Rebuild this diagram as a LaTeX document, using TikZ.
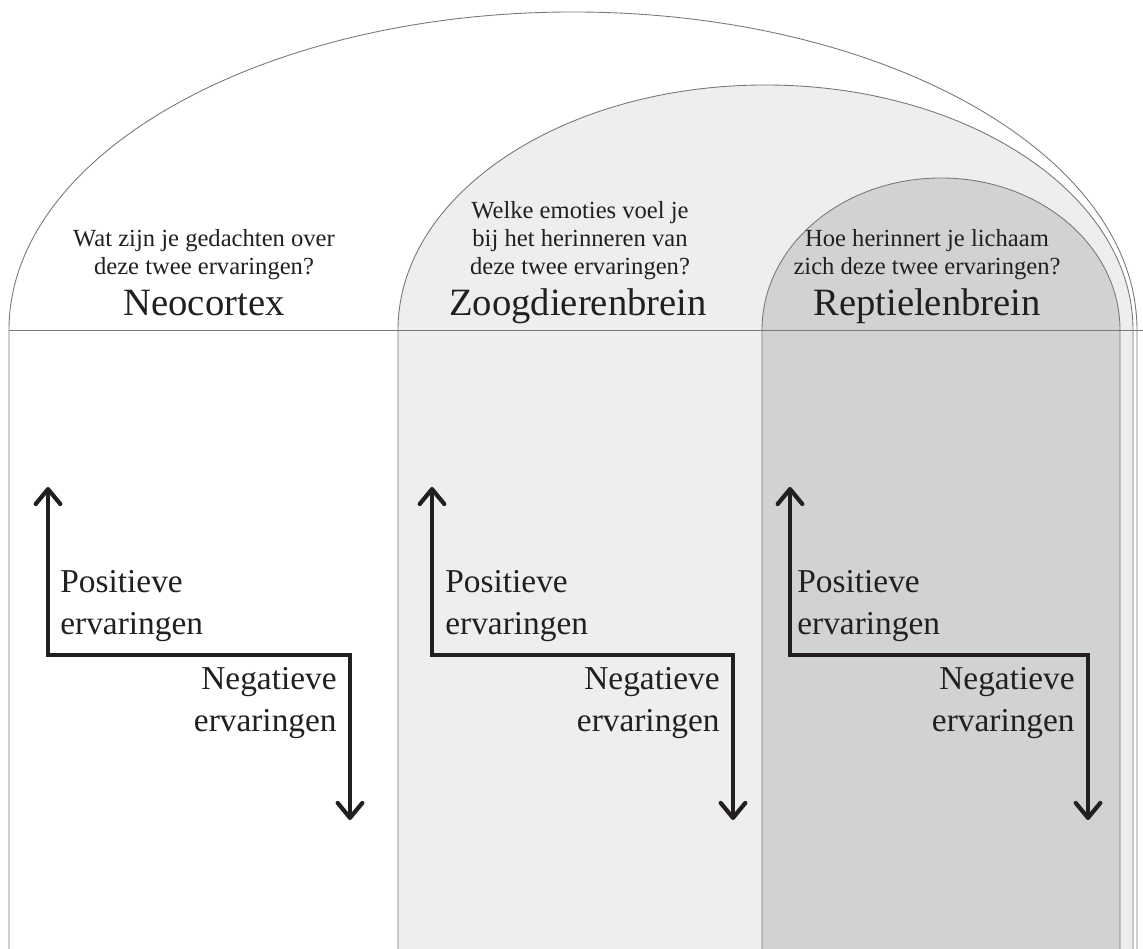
\documentclass[tikz,border=0pt]{standalone}
\usepackage{fontspec}
\setmainfont{Liberation Serif}
\usetikzlibrary{arrows.meta, positioning}
\definecolor{linegray}{RGB}{120,120,122}
\definecolor{mammalgray}{RGB}{238,238,238}
\definecolor{reptgray}{RGB}{209,210,212}
\definecolor{inkblack}{RGB}{35,31,32}

\tikzset{
  brainline/.style={draw=linegray, line width=0.5pt},
  question/.style={anchor=south, align=center, inner sep=0pt, text=inkblack, font=\fontsize{14}{15.9}\selectfont},
  braintitle/.style={anchor=base, inner sep=0pt, text=inkblack, font=\fontsize{22}{26}\selectfont},
  poslabel/.style={anchor=west, align=left, inner sep=0pt, text=inkblack, font=\fontsize{19}{24.4}\selectfont},
  neglabel/.style={anchor=east, align=right, inner sep=0pt, text=inkblack, font=\fontsize{19}{24.4}\selectfont},
  swing/.style={draw=inkblack, line width=2.4pt, line join=miter,
    {Straight Barb[length=8.5pt, width=14pt, round]}-{Straight Barb[length=8.5pt, width=14pt, round]}}
}

\begin{document}
\begin{tikzpicture}[x=0.02cm, y=0.02cm]
\useasboundingbox (0,0) rectangle (1143,949);

% the three brain layers
\draw[brainline, fill=white] (9,0) -- (9,619) arc[start angle=180, end angle=0, x radius=564, y radius=318] -- (1137,0);
\draw[brainline, fill=mammalgray] (398,0) -- (398,619) arc[start angle=180, end angle=0, x radius=367.5, y radius=245] -- (1133,0);
\draw[brainline, fill=reptgray] (762,0) -- (762,619) arc[start angle=180, end angle=0, x radius=179, y radius=152] -- (1120,0);
\draw[brainline] (9,619) -- (1143,619);

% titles and questions
\node[braintitle] (neo-title) at (204,633) {Neocortex};
\node[question] (neo-q) at (204,669) {Wat zijn je gedachten over\\deze twee ervaringen?};
\node[braintitle] (zoog-title) at (578,633) {Zoogdierenbrein};
\node[question] (zoog-q) at (580,669) {Welke emoties voel je\\bij het herinneren van\\deze twee ervaringen?};
\node[braintitle] (rep-title) at (927,633) {Reptielenbrein};
\node[question] (rep-q) at (927,669) {Hoe herinnert je lichaam\\zich deze twee ervaringen?};

% neocortex
\coordinate (neo-up) at (48,462);
\coordinate (neo-bend1) at (48,294);
\coordinate (neo-bend2) at (350,294);
\coordinate (neo-down) at (350,129);
\draw[swing] (neo-up) -- (neo-bend1) -- (neo-bend2) -- (neo-down);
\node[poslabel] (neo-pos) at (60,343) {Positieve\\ervaringen};
\node[neglabel] (neo-neg) at (337,246) {Negatieve\\ervaringen};

% zoogdierenbrein
\coordinate (zoog-up) at (432,462);
\coordinate (zoog-bend1) at (432,294);
\coordinate (zoog-bend2) at (733,294);
\coordinate (zoog-down) at (733,129);
\draw[swing] (zoog-up) -- (zoog-bend1) -- (zoog-bend2) -- (zoog-down);
\node[poslabel] (zoog-pos) at (445,343) {Positieve\\ervaringen};
\node[neglabel] (zoog-neg) at (720,246) {Negatieve\\ervaringen};

% reptielenbrein
\coordinate (rep-up) at (790,462);
\coordinate (rep-bend1) at (790,294);
\coordinate (rep-bend2) at (1088,294);
\coordinate (rep-down) at (1088,129);
\draw[swing] (rep-up) -- (rep-bend1) -- (rep-bend2) -- (rep-down);
\node[poslabel] (rep-pos) at (797,343) {Positieve\\ervaringen};
\node[neglabel] (rep-neg) at (1075,246) {Negatieve\\ervaringen};
\end{tikzpicture}
\end{document}
